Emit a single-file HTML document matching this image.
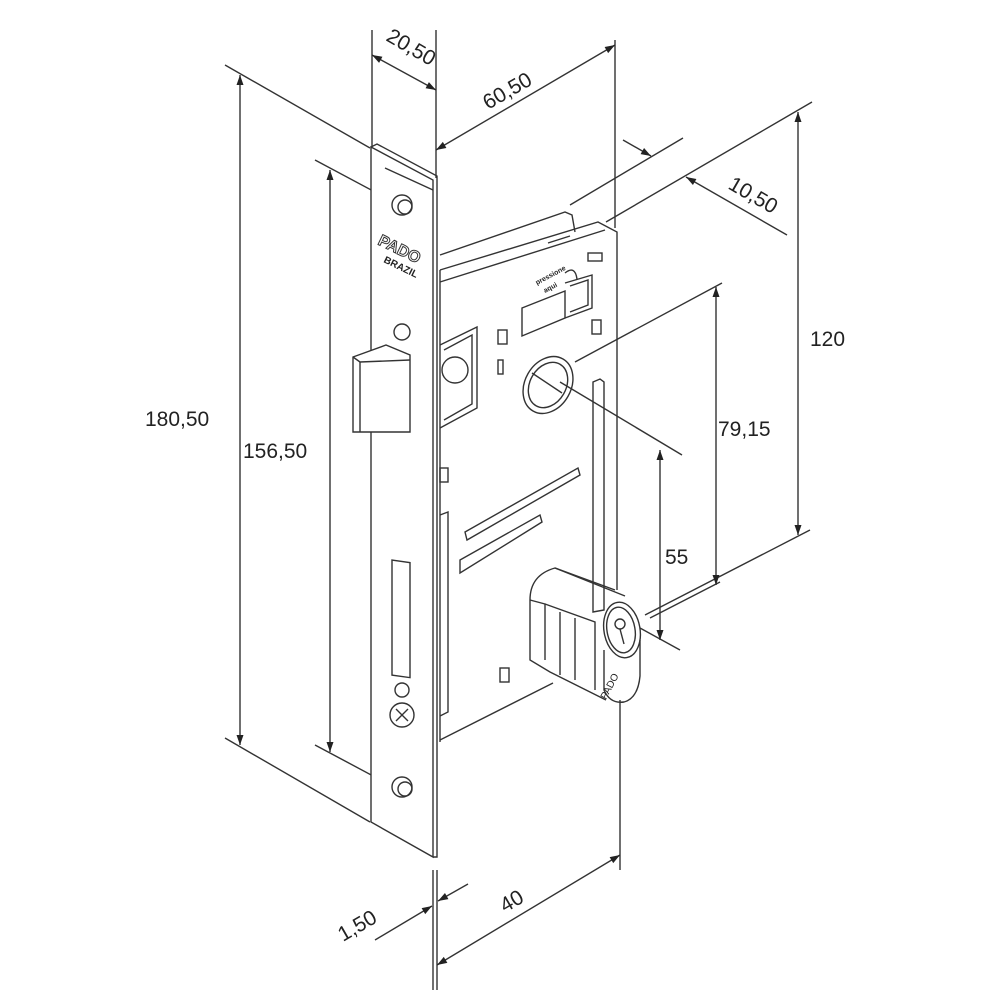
<!DOCTYPE html>
<html><head><meta charset="utf-8"><style>
body{margin:0;background:#fff}
svg{display:block}
text{font-family:"Liberation Sans",sans-serif;font-size:21px;fill:#222}
</style></head><body>
<svg width="1000" height="1000" viewBox="0 0 1000 1000" xmlns="http://www.w3.org/2000/svg">
<defs>
<marker id="a" viewBox="0 0 10 10" refX="10" refY="5" markerWidth="14" markerHeight="10" markerUnits="userSpaceOnUse" orient="auto-start-reverse">
<path d="M0,1.5 L10,5 L0,8.5 z" fill="#222"/></marker>
</defs>
<g stroke="#333" stroke-width="1.4" fill="none">
<line x1="225" y1="65" x2="370" y2="148"/>
<line x1="225" y1="738" x2="370" y2="822"/>
<line x1="315" y1="160" x2="390" y2="200"/>
<line x1="315" y1="745" x2="390" y2="785"/>
<line x1="372" y1="30" x2="372" y2="147"/>
<line x1="436" y1="30" x2="436" y2="178"/>
<line x1="615" y1="40" x2="615" y2="228"/>
<line x1="570" y1="205" x2="683" y2="138"/>
<line x1="606" y1="222" x2="812" y2="102"/>
<line x1="645" y1="615" x2="810" y2="530"/>
<line x1="575" y1="362" x2="722" y2="283"/>
<line x1="650" y1="618" x2="720" y2="582"/>
<line x1="560" y1="382" x2="682" y2="455"/>
<line x1="640" y1="628" x2="680" y2="650"/>
<line x1="437" y1="870" x2="437" y2="990"/>
<line x1="433" y1="870" x2="433" y2="990"/>
<line x1="620" y1="700" x2="620" y2="870"/>
<line x1="240" y1="75" x2="240" y2="745" marker-start="url(#a)" marker-end="url(#a)"/>
<line x1="330" y1="170" x2="330" y2="752" marker-start="url(#a)" marker-end="url(#a)"/>
<line x1="372" y1="55" x2="436" y2="90" marker-start="url(#a)" marker-end="url(#a)"/>
<line x1="436" y1="150" x2="615" y2="45" marker-start="url(#a)" marker-end="url(#a)"/>
<line x1="623" y1="140" x2="651" y2="156" marker-end="url(#a)"/>
<line x1="787" y1="235" x2="686" y2="177" marker-end="url(#a)"/>
<line x1="798" y1="112" x2="798" y2="535" marker-start="url(#a)" marker-end="url(#a)"/>
<line x1="716" y1="287" x2="716" y2="585" marker-start="url(#a)" marker-end="url(#a)"/>
<line x1="660" y1="450" x2="660" y2="640" marker-start="url(#a)" marker-end="url(#a)"/>
<line x1="437" y1="965" x2="620" y2="855" marker-start="url(#a)" marker-end="url(#a)"/>
<line x1="375" y1="940" x2="432" y2="906" marker-end="url(#a)"/>
<line x1="468" y1="884" x2="438" y2="901" marker-end="url(#a)"/>
<path d="M440,270 L598,222 L617,232 L617,590"/>
<line x1="440" y1="740" x2="553" y2="683"/>
<path d="M440,282 L605,230"/>
<path d="M440,255 L565,212 L572,215 L575,232"/>
<path d="M548,243 L570,236"/>
<line x1="440" y1="270" x2="440" y2="742"/>
<path d="M440,345 L477,327 L477,408 L440,428"/>
<path d="M444,350 L472,335 L472,404 L444,420"/>
<circle cx="455" cy="370" r="13"/>
<rect x="498" y="330" width="9" height="14"/>
<rect x="498" y="360" width="5" height="14"/>
<rect x="592" y="320" width="9" height="14"/>
<rect x="588" y="253" width="14" height="8"/>
<rect x="440" y="468" width="8" height="14"/>
<rect x="500" y="668" width="9" height="14"/>
<path d="M522,308 L565,291 L565,318 L522,336 z"/>
<path d="M565,283 L592,275 L592,308 L565,318"/>
<path d="M570,286 L588,280 L588,305 L570,312"/>
<path d="M565,273 q10,-8 12,6"/>
<ellipse cx="548" cy="385" rx="23" ry="30" transform="rotate(30 548 385)"/>
<ellipse cx="548" cy="385" rx="18" ry="24" transform="rotate(30 548 385)"/>
<line x1="532" y1="373" x2="562" y2="393"/>
<path d="M593,382 L600,379 L604,382 L604,610 L593,612 z"/>
<path d="M440,515 L448,512 L448,712 L440,716"/>
<path d="M465,532 L578,468 L580,475 L467,540 z"/>
<path d="M460,560 L540,515 L542,522 L460,573 z"/>
<path d="M530,600 q0,-25 25,-32 L615,590"/>
<path d="M555,568 L625,596"/>
<path d="M530,600 L530,660 L550,672 L606,700"/>
<path d="M530,600 L545,604 L545,660"/>
<path d="M545,604 L595,622 L595,690"/>
<path d="M560,612 L560,675"/>
<path d="M575,618 L575,680"/>
<ellipse cx="622" cy="630" rx="18" ry="28" transform="rotate(-10 622 630)"/>
<ellipse cx="621" cy="630" rx="14" ry="23" transform="rotate(-10 621 630)"/>
<path d="M604,650 L604,690 q6,14 20,12 q14,-4 16,-26 L640,640"/>
<circle cx="620" cy="624" r="5"/>
<line x1="620" y1="629" x2="624" y2="644"/>
<path d="M371,147 L433,180 L433,857 L371,822 z" fill="#fff"/>
<path d="M371,147 L377,144 L437,176 L437,857 L433,857"/>
<path d="M385,168 L433,190"/>
<circle cx="402" cy="205" r="10"/>
<circle cx="405" cy="207" r="7"/>
<circle cx="402" cy="332" r="8"/>
<path d="M353,357 L386,345 L410,355 L410,432 L353,432 z" fill="#fff"/>
<path d="M353,357 L360,362 L410,360"/>
<path d="M360,362 L360,432"/>
<rect x="392" y="560" width="18" height="115" transform="skewY(8) translate(0,-55)"/>
<circle cx="402" cy="690" r="7"/>
<circle cx="402" cy="715" r="12"/>
<path d="M396,709 L408,721 M408,709 L396,721"/>
<circle cx="402" cy="787" r="10"/>
<circle cx="405" cy="789" r="7"/>
</g>
<text x="377" y="244" transform="rotate(26 377 244)" style="font-size:16px;font-weight:bold;fill:#fff;stroke:#333;stroke-width:1">PADO</text>
<text x="383" y="262" transform="rotate(26 383 262)" style="font-size:10px;font-weight:bold">BRAZIL</text>
<text x="537" y="285" transform="rotate(-28 537 285)" style="font-size:7px;font-weight:bold">pressione</text>
<text x="545" y="293" transform="rotate(-28 545 293)" style="font-size:7px;font-weight:bold">aqui</text>
<text x="606" y="700" transform="rotate(-62 606 700)" style="font-size:10px">PADO</text>
<text x="145" y="426">180,50</text>
<text x="243" y="458">156,50</text>
<text x="385" y="40" transform="rotate(30 385 40)">20,50</text>
<text x="488" y="110" transform="rotate(-30 488 110)">60,50</text>
<text x="727" y="188" transform="rotate(30 727 188)">10,50</text>
<text x="810" y="346">120</text>
<text x="718" y="436">79,15</text>
<text x="665" y="564">55</text>
<text x="505" y="913" transform="rotate(-30 505 913)">40</text>
<text x="343" y="942" transform="rotate(-30 343 942)">1,50</text>
</svg>
</body></html>
